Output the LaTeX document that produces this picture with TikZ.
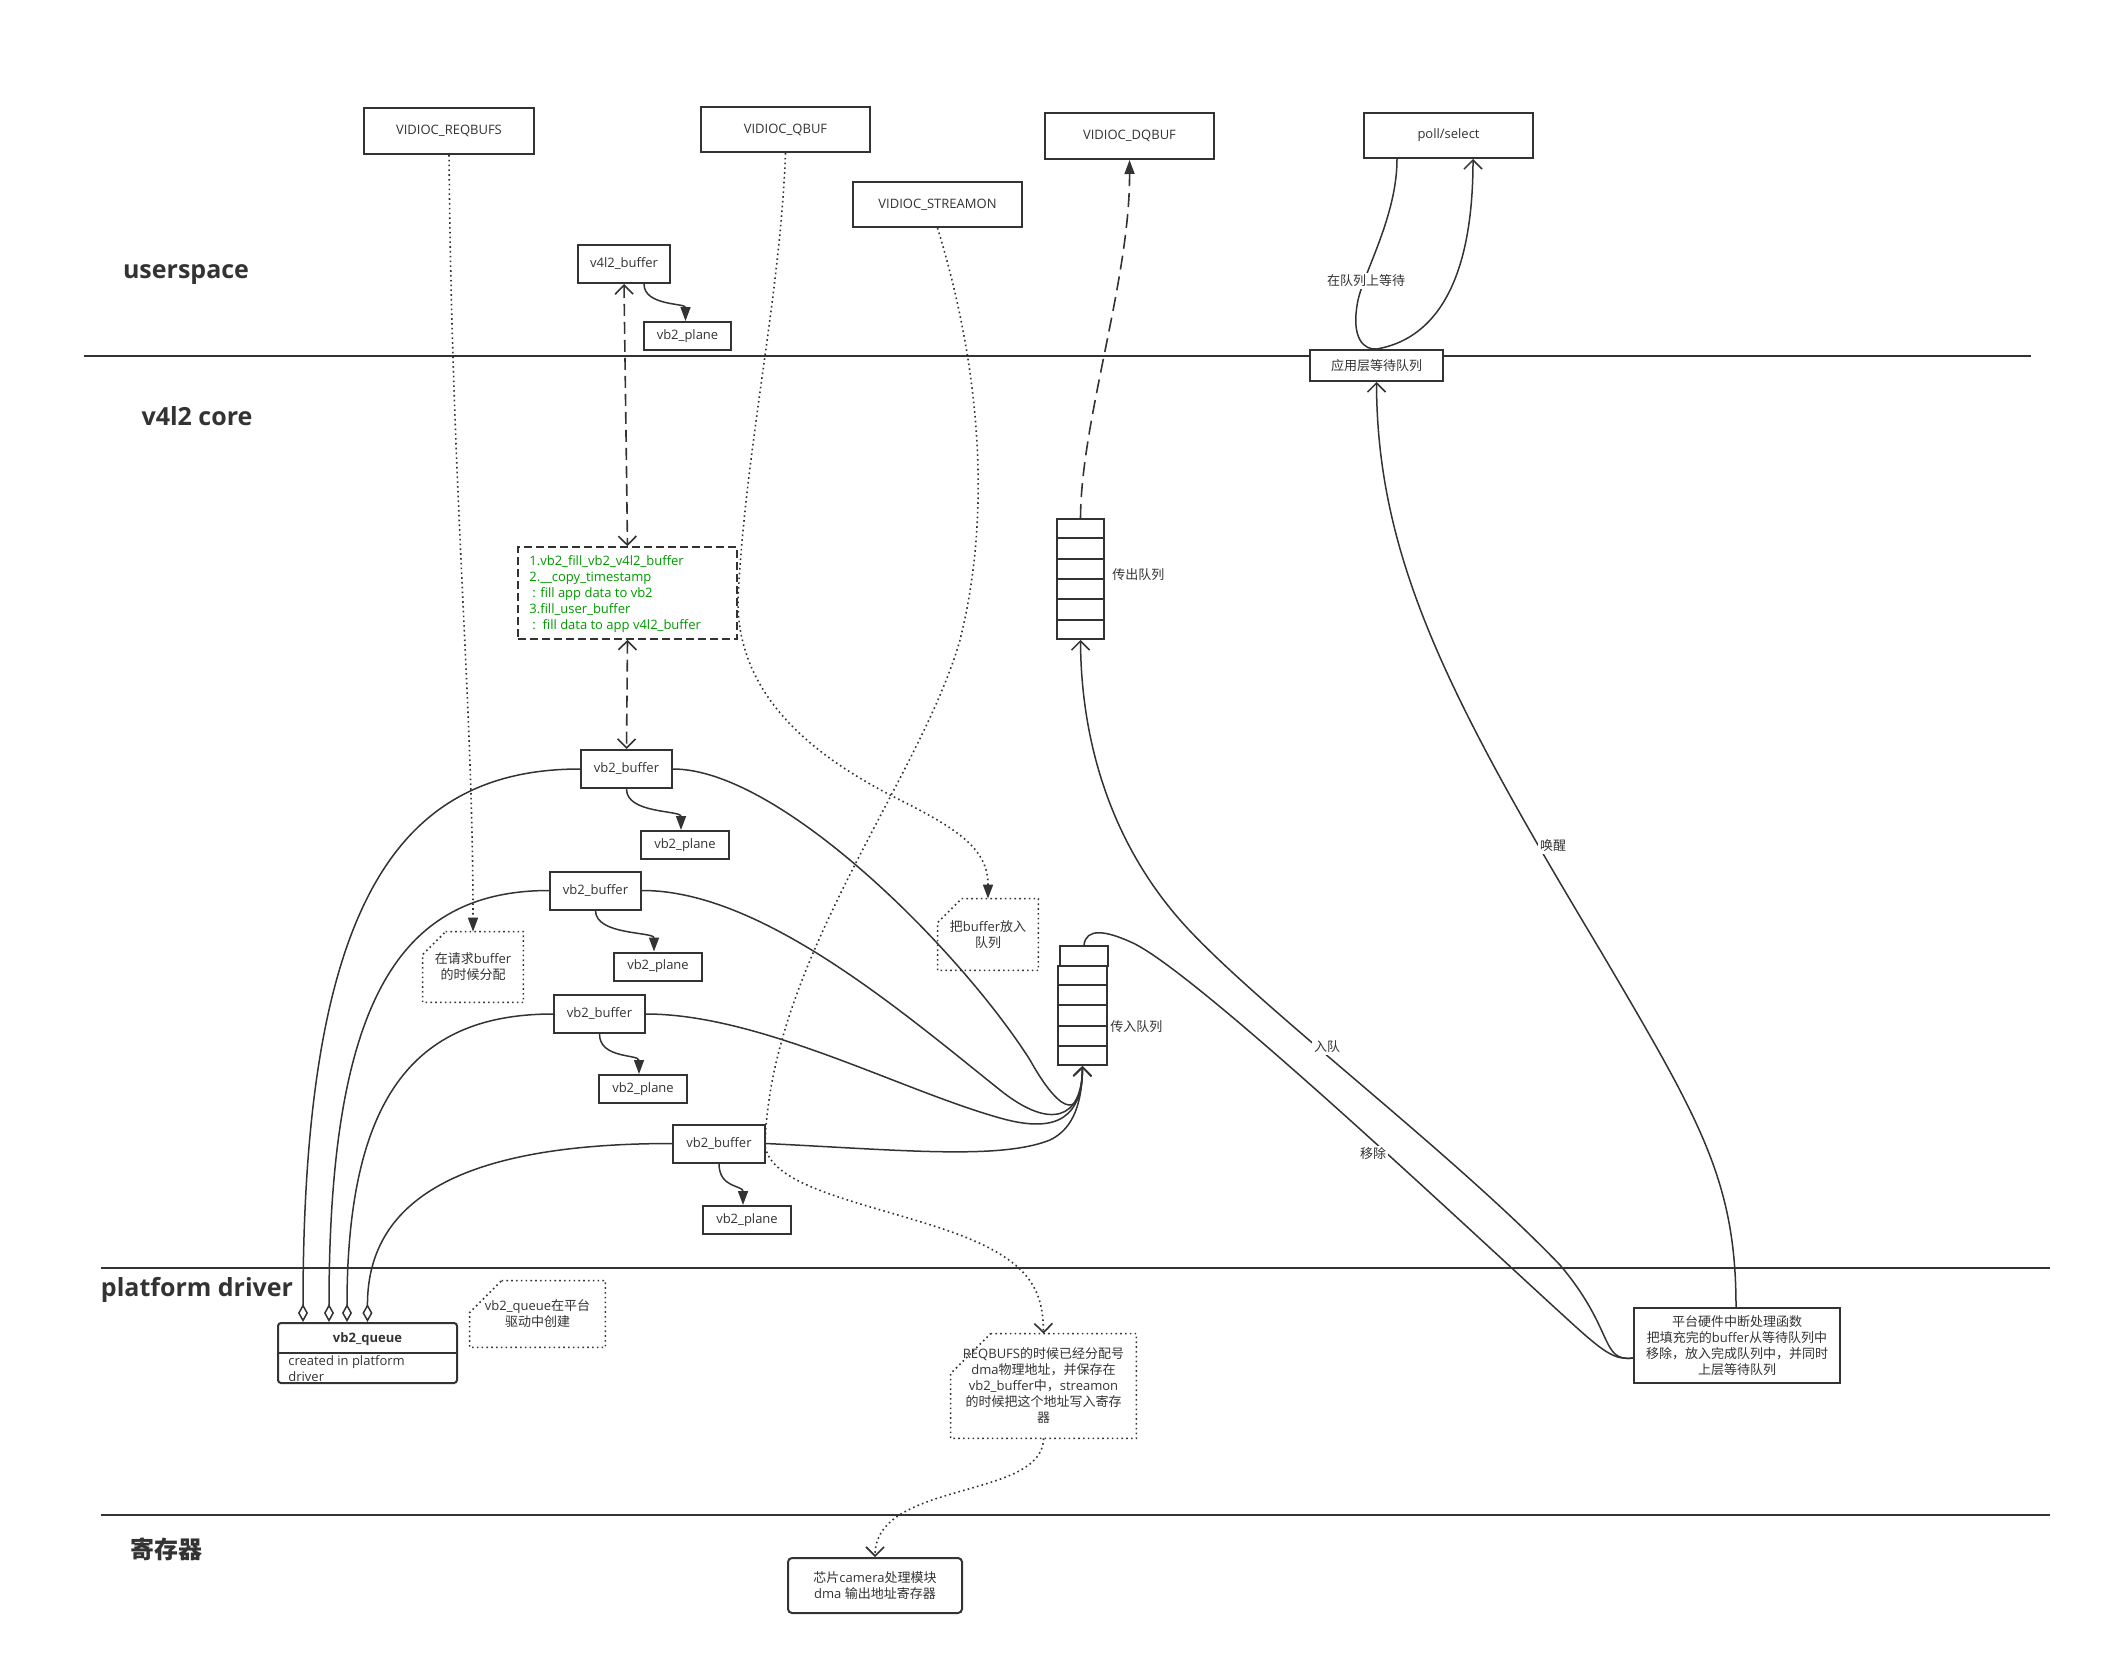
\documentclass[tikz,border=0pt]{standalone}
\usepackage{fontspec}
\setmainfont{Open Sans}
\newfontfamily\cjkfont{Noto Sans CJK SC}
\newcommand\cjk[1]{{\cjkfont #1}}
\newcommand\fs{\fontsize{6.5}{8}\selectfont}
\usetikzlibrary{arrows.meta,calc}
\definecolor{lc}{HTML}{333333}
\definecolor{gtext}{HTML}{009900}
\tikzset{
  every node/.style={font=\fs, text=lc},
  box/.style={draw=lc, line width=1pt, fill=white, inner sep=1pt},
  conn/.style={draw=lc, line width=0.75pt},
  hline/.style={draw=lc, line width=1pt},
  dotline/.style={draw=lc, line width=0.8pt, dash pattern=on 0.8pt off 1.6pt},
  dashline/.style={draw=lc, line width=0.8pt, dash pattern=on 6pt off 3pt},
  opentip/.style={-{Straight Barb[length=4.5pt,width=9pt]}},
  filltip/.style={-{Triangle[length=7pt,width=5pt]}},
  lbl/.style={fill=white, inner sep=1pt},
  cardnode/.style={inner sep=0pt, align=center},
  head/.style={font=\fontsize{12.5}{15}\selectfont\bfseries},
  qbox/.style={draw=lc, line width=1pt, inner sep=0pt, fill=white},
}
\begin{document}
\begin{tikzpicture}[x=0.5pt,y=-0.5pt]
\useasboundingbox[fill=white] (0,0) rectangle (2112,1675);

% layer lines
\coordinate (l1a) at (84,356);  \coordinate (l1b) at (2031,356);
\coordinate (l2a) at (101,1268); \coordinate (l2b) at (2050,1268);
\coordinate (l3a) at (101,1515); \coordinate (l3b) at (2050,1515);
\draw[hline] (l1a) -- (l1b);
\draw[hline] (l2a) -- (l2b);
\draw[hline] (l3a) -- (l3b);

% headlines
\node[head] (huser) at (186,275) {userspace};
\node[head] (hcore) at (197,416) {v4l2 core};
\node[head] (hplat) at (197,1290) {platform driver};
\node[font=\cjkfont\fontsize{12}{14}\selectfont\bfseries] (hreg) at (166,1549) {寄存器};

% top boxes
\node[box, minimum width=85pt, minimum height=23pt] (reqbufs) at (449,131) {VIDIOC\_REQBUFS};
\node[box, minimum width=84.5pt, minimum height=22.5pt] (qbuf) at (785.5,129.5) {VIDIOC\_QBUF};
\node[box, minimum width=84.5pt, minimum height=22.5pt] (streamon) at (937.5,204.5) {VIDIOC\_STREAMON};
\node[box, minimum width=84.5pt, minimum height=23pt] (dqbuf) at (1129.5,136) {VIDIOC\_DQBUF};
\node[box, minimum width=84.5pt, minimum height=22.5pt] (poll) at (1448.5,135.5) {poll/select};
\node[box, minimum width=46pt, minimum height=19pt] (v4l2buf) at (624,264) {v4l2\_buffer};
\node[box, minimum width=43.5pt, minimum height=14pt] (plane0) at (687.5,336) {vb2\_plane};
\node[box, minimum width=66.5pt, minimum height=15.5pt] (appq) at (1376.5,365.5) {\cjk{应用层等待队列}};

% green function box
\node[draw=lc, line width=0.8pt, dash pattern=on 4pt off 2pt, minimum width=109.5pt, minimum height=46pt, inner sep=0pt] (green) at (627.5,593) {};
\node[anchor=west, align=left, text=gtext, inner sep=0pt] (greentext) at (529,594)
  {1.vb2\_fill\_vb2\_v4l2\_buffer\\2.\_\_copy\_timestamp\\\hspace*{1.5pt}: fill app data to vb2\\3.fill\_user\_buffer\\\hspace*{1.5pt}:\ \ fill data to app v4l2\_buffer};

% vb2 buffers and planes
\node[box, minimum width=45.5pt, minimum height=19pt] (bufA) at (626.5,769) {vb2\_buffer};
\node[box, minimum width=44pt, minimum height=14pt] (planeA) at (685,845) {vb2\_plane};
\node[box, minimum width=45.5pt, minimum height=19pt] (bufB) at (595.5,890.5) {vb2\_buffer};
\node[box, minimum width=44pt, minimum height=14pt] (planeB) at (658,966.5) {vb2\_plane};
\node[box, minimum width=45.5pt, minimum height=19pt] (bufC) at (599.5,1014) {vb2\_buffer};
\node[box, minimum width=44pt, minimum height=14pt] (planeC) at (643,1089) {vb2\_plane};
\node[box, minimum width=46pt, minimum height=19pt] (bufD) at (719,1143.5) {vb2\_buffer};
\node[box, minimum width=44pt, minimum height=14pt] (planeD) at (747,1220) {vb2\_plane};

% queues
\node[qbox, minimum width=23.5pt, minimum height=60pt] (outq) at (1080.5,579) {};
\foreach \k in {1,...,5}
  \draw[lc, line width=1pt] ($(outq.north west)!\k/6!(outq.south west)$) -- ($(outq.north east)!\k/6!(outq.south east)$);
\node[anchor=west, inner sep=0pt] (outqlabel) at (1112,575) {\cjk{传出队列}};

\node[qbox, minimum width=24.5pt, minimum height=49.5pt] (inq) at (1082.5,1015.5) {};
\foreach \k in {1,...,4}
  \draw[lc, line width=1pt] ($(inq.north west)!\k/5!(inq.south west)$) -- ($(inq.north east)!\k/5!(inq.south east)$);
\node[qbox, minimum width=24pt, minimum height=10pt] (inqtop) at (1084,956) {};
\node[anchor=west, inner sep=0pt] (inqlabel) at (1110,1027) {\cjk{传入队列}};

% vb2_queue
\node[draw=lc, line width=1pt, rounded corners=1.5pt, minimum width=89.5pt, minimum height=30pt, inner sep=0pt] (vq) at (367.5,1353) {};
\draw[lc, line width=1pt] (vq.west) -- (vq.east);
\node[font=\fs\bfseries] (vqtitle) at (367.5,1339) {vb2\_queue};
\node[anchor=west, align=left, inner sep=0pt] (vqtext) at (288,1369) {created in platform\\driver};

% notes
\node[cardnode, minimum width=50pt, minimum height=35pt] (note1) at (473,967) {\cjk{在请求}buffer\\\cjk{的时候分配}};
\draw[dotline] ([xshift=11.5pt]note1.north west) -- (note1.north east) -- (note1.south east) -- (note1.south west) -- ([yshift=-11.5pt]note1.north west) -- cycle;
\node[cardnode, minimum width=50pt, minimum height=35.5pt] (note2) at (988,934.5) {\cjk{把}buffer\cjk{放入}\\\cjk{队列}};
\draw[dotline] ([xshift=12pt]note2.north west) -- (note2.north east) -- (note2.south east) -- (note2.south west) -- ([yshift=-12pt]note2.north west) -- cycle;
\node[cardnode, minimum width=67.5pt, minimum height=33pt] (note3) at (537.5,1314) {vb2\_queue\cjk{在平台}\\\cjk{驱动中创建}};
\draw[dotline] ([xshift=16pt]note3.north west) -- (note3.north east) -- (note3.south east) -- (note3.south west) -- ([yshift=-16pt]note3.north west) -- cycle;
\node[cardnode, minimum width=92.5pt, minimum height=52pt] (note4) at (1043.5,1386)
  {REQBUFS\cjk{的时候已经分配号}\\dma\cjk{物理地址，并保存在}\\vb2\_buffer\cjk{中，}streamon\\\cjk{的时候把这个地址写入寄存}\\\cjk{器}};
\draw[dotline] ([xshift=20pt]note4.north west) -- (note4.north east) -- (note4.south east) -- (note4.south west) -- ([yshift=-20pt]note4.north west) -- cycle;

% interrupt and chip
\node[box, minimum width=103pt, minimum height=37.5pt, align=center] (intr) at (1737,1345.5)
  {\cjk{平台硬件中断处理函数}\\\cjk{把填充完的}buffer\cjk{从等待队列中}\\\cjk{移除，放入完成队列中，并同时}\\\cjk{上层等待队列}};
\node[box, rounded corners=2pt, minimum width=87pt, minimum height=27.5pt, align=center] (chip) at (875,1585.5)
  {\cjk{芯片}camera\cjk{处理模块}\\dma \cjk{输出地址寄存器}};

% buffer -> plane arrows
\draw[conn, filltip] ([xshift=10pt]v4l2buf.south) .. controls +(0,22) and +(0,-18) .. ([xshift=-1pt]plane0.north);
\draw[conn, filltip] (bufA.south) .. controls +(0,25) and +(0,-20) .. ([xshift=-2pt]planeA.north);
\draw[conn, filltip] (bufB.south) .. controls +(0,25) and +(0,-20) .. ([xshift=-2pt]planeB.north);
\draw[conn, filltip] (bufC.south) .. controls +(0,25) and +(0,-20) .. ([xshift=-2pt]planeC.north);
\draw[conn, filltip] (bufD.south) .. controls +(0,25) and +(0,-20) .. ([xshift=-2pt]planeD.north);

% dashed links
\draw[dashline, {Straight Barb[length=4.5pt,width=9pt]}-{Straight Barb[length=4.5pt,width=9pt]}] (v4l2buf.south) -- (green.north);
\draw[dashline, {Straight Barb[length=4.5pt,width=9pt]}-{Straight Barb[length=4.5pt,width=9pt]}] (green.south) -- (bufA.north);
\draw[dashline, dash pattern=on 7pt off 3.5pt, filltip] (outq.north) .. controls (1081,420) and (1130,280) .. (dqbuf.south);

% poll/select loop
\draw[conn] ([xshift=-25.75pt]poll.south) .. controls (1397,215) and (1365,270) .. (1358,300) .. controls (1350,340) and (1365,350) .. (appq.north);
\draw[conn, opentip] (appq.north) .. controls (1430,340) and (1473,290) .. ([xshift=12.25pt]poll.south);
\node[lbl] (lwait) at (1366,281) {\cjk{在队列上等待}};

% wake up
\draw[conn, opentip] ([xshift=-0.5pt]intr.north) .. controls (1736,1180) and (1700,1120) .. (1600,950) .. controls (1450,700) and (1377,560) .. (appq.south);
\node[lbl] (lwake) at (1553,846) {\cjk{唤醒}};

% enqueue to out queue
\draw[conn, opentip] ([yshift=-6.25pt]intr.west) .. controls (1600,1362) and (1615,1330) .. (1560,1265) .. controls (1450,1150) and (1250,1000) .. (1180,920) .. controls (1110,840) and (1081,740) .. (outq.south);
\node[lbl] (lenq) at (1327,1047) {\cjk{入队}};

% remove from in queue
\draw[conn] (inqtop.north) .. controls (1086,928) and (1105,930) .. (1133,943) .. controls (1200,975) and (1480,1240) .. (1576,1327) .. controls (1606,1354) and (1616,1360) .. ([yshift=-6.25pt]intr.west);
\node[lbl] (lrem) at (1373,1154) {\cjk{移除}};

% buffers -> in queue
\draw[conn, opentip] (bufA.east) .. controls (780,769) and (960,950) .. (1030,1060) .. controls (1055,1105) and (1082,1130) .. (inq.south);
\draw[conn, opentip] (bufB.east) .. controls (760,890) and (900,1010) .. (1000,1090) .. controls (1050,1130) and (1082,1120) .. (inq.south);
\draw[conn, opentip] (bufC.east) .. controls (760,1014) and (900,1090) .. (1000,1118) .. controls (1060,1135) and (1082,1115) .. (inq.south);
\draw[conn, opentip] (bufD.east) .. controls (900,1150) and (1000,1160) .. (1050,1140) .. controls (1075,1128) and (1082,1100) .. (inq.south);

% buffers -> vb2_queue (aggregation)
\draw[conn, {Diamond[open,length=9pt,width=5pt]}-] ([xshift=-32.25pt]vq.north) .. controls (303,900) and (400,769) .. (bufA.west);
\draw[conn, {Diamond[open,length=9pt,width=5pt]}-] ([xshift=-19.25pt]vq.north) .. controls (329,1000) and (400,890.5) .. (bufB.west);
\draw[conn, {Diamond[open,length=9pt,width=5pt]}-] ([xshift=-10.25pt]vq.north) .. controls (347,1090) and (420,1014) .. (bufC.west);
\draw[conn, {Diamond[open,length=9pt,width=5pt]}-] (vq.north) .. controls (367,1180) and (500,1143.5) .. (bufD.west);

% dotted links
\draw[dotline, filltip] (reqbufs.south) .. controls (452,500) and (473,700) .. (note1.north);
\draw[dotline, filltip] (qbuf.south) .. controls (780,300) and (745,450) .. (738,600) .. controls (737,700) and (820,760) .. (900,800) .. controls (960,830) and (988,850) .. (note2.north);
\draw[dotline, opentip] (streamon.south) .. controls (975,350) and (995,500) .. (960,640) .. controls (920,780) and (770,960) .. (765,1145) .. controls (770,1190) and (880,1205) .. (960,1235) .. controls (1030,1262) and (1043,1290) .. (note4.north);
\draw[dotline, opentip] (note4.south) .. controls (1043,1500) and (875,1480) .. (chip.north);

\end{tikzpicture}
\end{document}
